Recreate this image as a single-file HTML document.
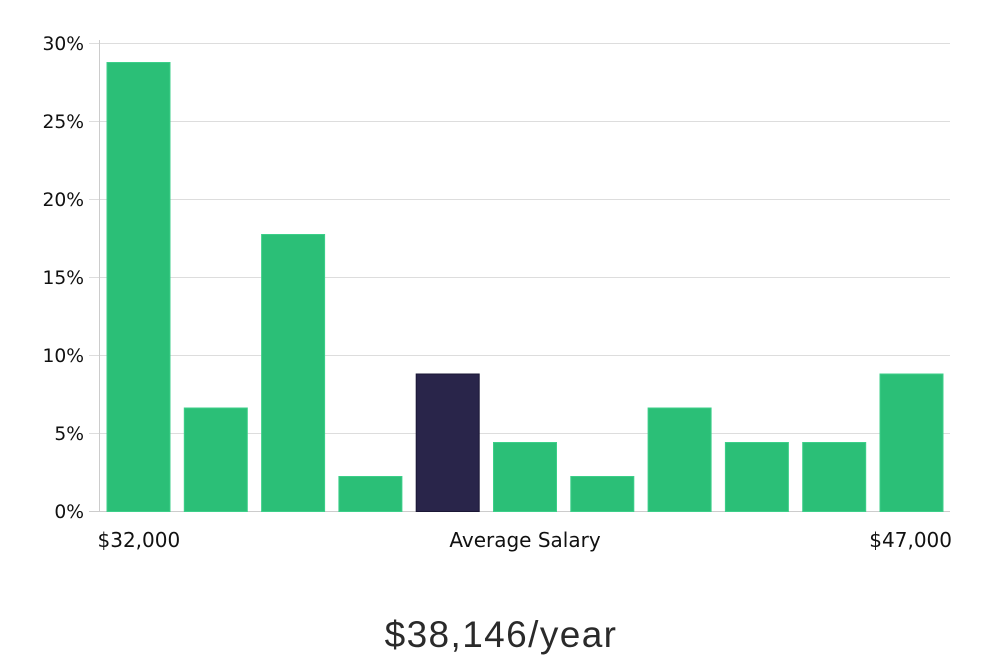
<!DOCTYPE html>
<html>
<head>
<meta charset="utf-8">
<style>
  html, body { margin:0; padding:0; background:#ffffff; }
  body { width:1000px; height:660px; overflow:hidden; }
  svg { display:block; }
  .yl { font-family:"DejaVu Sans", "Liberation Sans", sans-serif; font-size:18.7px; fill:#111111; }
  .xl { font-family:"DejaVu Sans", "Liberation Sans", sans-serif; font-size:20px; fill:#111111; }
  .title { font-family:"Liberation Sans", "DejaVu Sans", sans-serif; font-size:37px; fill:#2a2a2a; letter-spacing:1.4px; }
</style>
</head>
<body>
<svg width="1000" height="660" viewBox="0 0 1000 660" xmlns="http://www.w3.org/2000/svg">
  <!-- gridlines -->
  <g stroke="#dddddd" stroke-width="1">
    <line x1="89" y1="43.5" x2="950" y2="43.5"/>
    <line x1="89" y1="121.5" x2="950" y2="121.5"/>
    <line x1="89" y1="199.5" x2="950" y2="199.5"/>
    <line x1="89" y1="277.5" x2="950" y2="277.5"/>
    <line x1="89" y1="355.5" x2="950" y2="355.5"/>
    <line x1="89" y1="433.5" x2="950" y2="433.5"/>
  </g>
  <!-- y axis -->
  <line x1="99.5" y1="40" x2="99.5" y2="512" stroke="#cccccc" stroke-width="1"/>
  <line x1="89" y1="511.5" x2="950" y2="511.5" stroke="#cccccc" stroke-width="1"/>

  <!-- y labels -->
  <g class="yl" text-anchor="end">
    <text x="84" y="50">30%</text>
    <text x="84" y="128">25%</text>
    <text x="84" y="206">20%</text>
    <text x="84" y="284">15%</text>
    <text x="84" y="362">10%</text>
    <text x="84" y="440">5%</text>
    <text x="84" y="518">0%</text>
  </g>

  <!-- bars -->
  <g fill="#2bbf77" stroke="#3ccf89" stroke-width="1">
    <rect x="107" y="62.5" width="63" height="449"/>
    <rect x="184.3" y="408" width="63" height="103.5"/>
    <rect x="261.6" y="234.5" width="63" height="277"/>
    <rect x="338.9" y="476.5" width="63" height="35"/>
    <rect x="493.5" y="442.5" width="63" height="69"/>
    <rect x="570.8" y="476.5" width="63" height="35"/>
    <rect x="648.1" y="408" width="63" height="103.5"/>
    <rect x="725.4" y="442.5" width="63" height="69"/>
    <rect x="802.7" y="442.5" width="63" height="69"/>
    <rect x="880" y="374" width="63" height="137.5"/>
  </g>
  <rect x="416.2" y="374" width="63" height="137.5" fill="#29254a" stroke="#1a1735" stroke-width="1"/>

  <!-- x labels -->
  <g class="xl">
    <text x="97.5" y="547">$32,000</text>
    <text x="525" y="547" text-anchor="middle">Average Salary</text>
    <text x="952" y="547" text-anchor="end">$47,000</text>
  </g>

  <!-- title -->
  <text class="title" x="501" y="647" text-anchor="middle">$38,146/year</text>
</svg>
</body>
</html>
